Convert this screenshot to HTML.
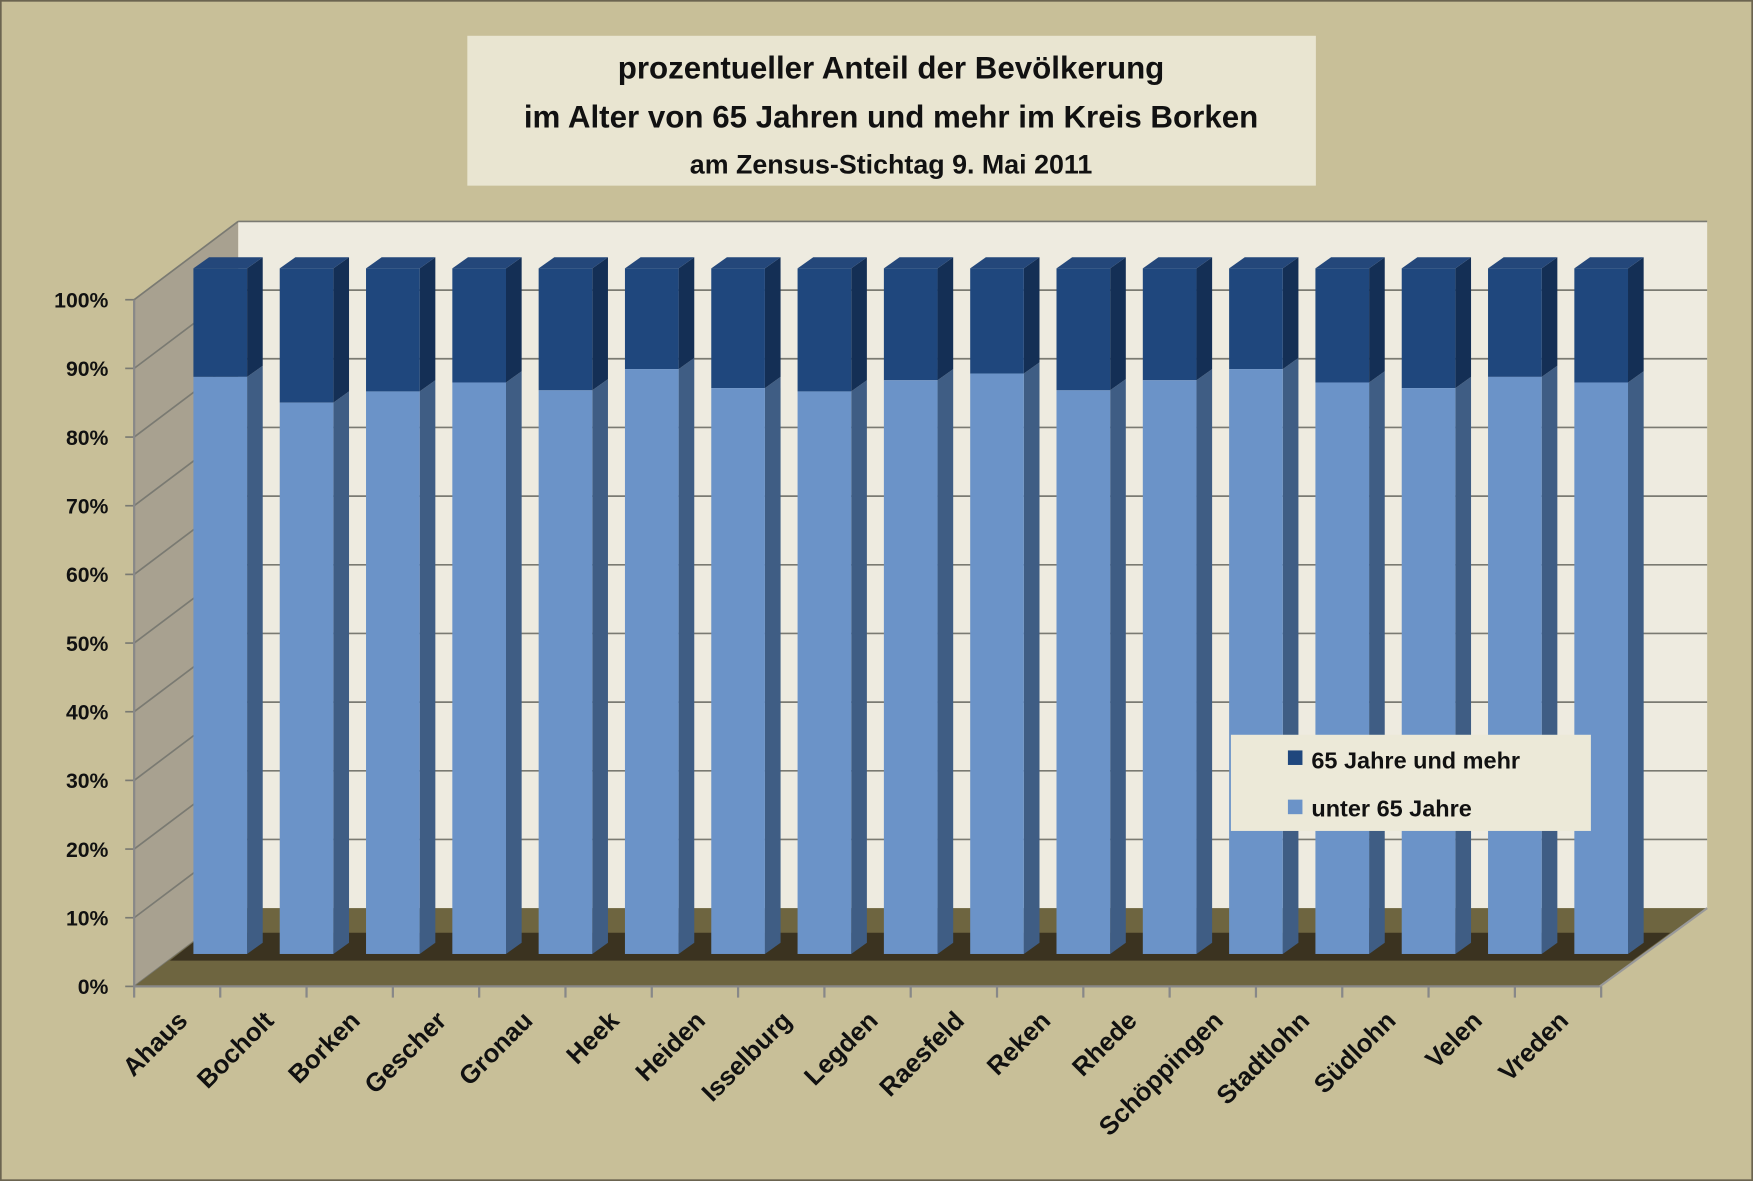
<!DOCTYPE html>
<html><head><meta charset="utf-8"><style>html,body{margin:0;padding:0;background:#c8bf98}svg{display:block}</style></head>
<body>
<svg width="1753" height="1181" viewBox="0 0 1568 1056" preserveAspectRatio="none" xmlns="http://www.w3.org/2000/svg" font-family="Liberation Sans, sans-serif">
<rect x="0" y="0" width="1568" height="1056" fill="#c8bf98" stroke="#6b6450" stroke-width="3"/>
<rect x="418" y="32" width="759" height="134" fill="#e9e5d1"/>
<text x="797" y="70" text-anchor="middle" font-size="28" font-weight="bold" fill="#111">prozentueller Anteil der Bevölkerung</text>
<text x="797" y="114" text-anchor="middle" font-size="28" font-weight="bold" fill="#111">im Alter von 65 Jahren und mehr im Kreis Borken</text>
<text x="797" y="155" text-anchor="middle" font-size="24" font-weight="bold" fill="#111">am Zensus-Stichtag  9. Mai 2011</text>
<polygon points="213,198 1527,198 1527,812 213,812" fill="#eeebe0"/>
<polygon points="120,268 213,198 213,812 120,882" fill="#a8a190"/>
<g stroke="#7a7a72" stroke-width="1.5" fill="none" id="grid"></g>
<polygon points="120,882 213,812 1527,812 1431,882" fill="#6e6540"/>
<polygon points="152,859 184,834 1494,834 1460,859" fill="#3b3320"/>
<line x1="120" y1="882" x2="1431" y2="882" stroke="#888" stroke-width="2"/>
<line x1="1431" y1="882" x2="1527" y2="812" stroke="#999" stroke-width="2"/>
<line x1="120" y1="268" x2="120" y2="882" stroke="#888" stroke-width="2"/>
<g id="bars"></g>
<g id="labels" font-size="19" font-weight="bold" fill="#111"></g>
<rect x="1101" y="657" width="322" height="86" fill="#ece9d8"/>
<rect x="1152" y="671" width="13" height="13" fill="#1f477d"/>
<text x="1173" y="687" font-size="21" font-weight="bold" fill="#111">65 Jahre und mehr</text>
<rect x="1152" y="715" width="13" height="13" fill="#6b93c8"/>
<text x="1173" y="730" font-size="21" font-weight="bold" fill="#111">unter 65 Jahre</text>
<script>
(function(){
var ns="http://www.w3.org/2000/svg";
function el(p,t,a,txt){var e=document.createElementNS(ns,t);for(var k in a)e.setAttribute(k,a[k]);if(txt)e.textContent=txt;p.appendChild(e);return e;}
var g=document.getElementById('grid');
for(var i=0;i<=10;i++){var yf=882-i*61.4,yb=yf-70;
 if(i>0)el(g,'line',{x1:213,y1:yb,x2:1527,y2:yb});
 el(g,'line',{x1:120,y1:yf,x2:213,y2:yb});
 el(g,'line',{x1:112,y1:yf,x2:120,y2:yf});
 el(document.getElementById('labels'),'text',{x:97,y:yf+7,'text-anchor':'end'},(i*10)+'%');}
var names=["Ahaus","Bocholt","Borken","Gescher","Gronau","Heek","Heiden","Isselburg","Legden","Raesfeld","Reken","Rhede","Schöppingen","Stadtlohn","Südlohn","Velen","Vreden"];
var sp=[337,360,350,342,349,330,347,350,340,334,349,340,330,342,347,337,342];
var b=document.getElementById('bars'),L=document.getElementById('labels');
for(var i=0;i<17;i++){var x=173+i*77.2,w=48,d=14,h=10,tp=240,bot=853,s=sp[i];
 el(b,'polygon',{points:(x+w)+','+s+' '+(x+w+d)+','+(s-h)+' '+(x+w+d)+','+(bot-h)+' '+(x+w)+','+bot,fill:'#3f5d84'});
 el(b,'polygon',{points:(x+w)+','+tp+' '+(x+w+d)+','+(tp-h)+' '+(x+w+d)+','+(s-h)+' '+(x+w)+','+s,fill:'#142f55'});
 el(b,'polygon',{points:x+','+tp+' '+(x+d)+','+(tp-h)+' '+(x+w+d)+','+(tp-h)+' '+(x+w)+','+tp,fill:'#24477a'});
 el(b,'rect',{x:x,y:tp,width:w,height:s-tp,fill:'#1f477d'});
 el(b,'rect',{x:x,y:s,width:w,height:bot-s,fill:'#6b93c8'});
 var tx=197+i*77.2;
 el(b,'line',{x1:tx,y1:882,x2:tx,y2:892,stroke:'#888','stroke-width':2});
 el(L,'text',{x:tx-28,y:914,'text-anchor':'end',transform:'rotate(-45 '+(tx-28)+' 914)','font-size':23},names[i]);}
el(b,'line',{x1:120,y1:882,x2:120,y2:892,stroke:'#888','stroke-width':2});
})();
</script>
</svg>
</body></html>
